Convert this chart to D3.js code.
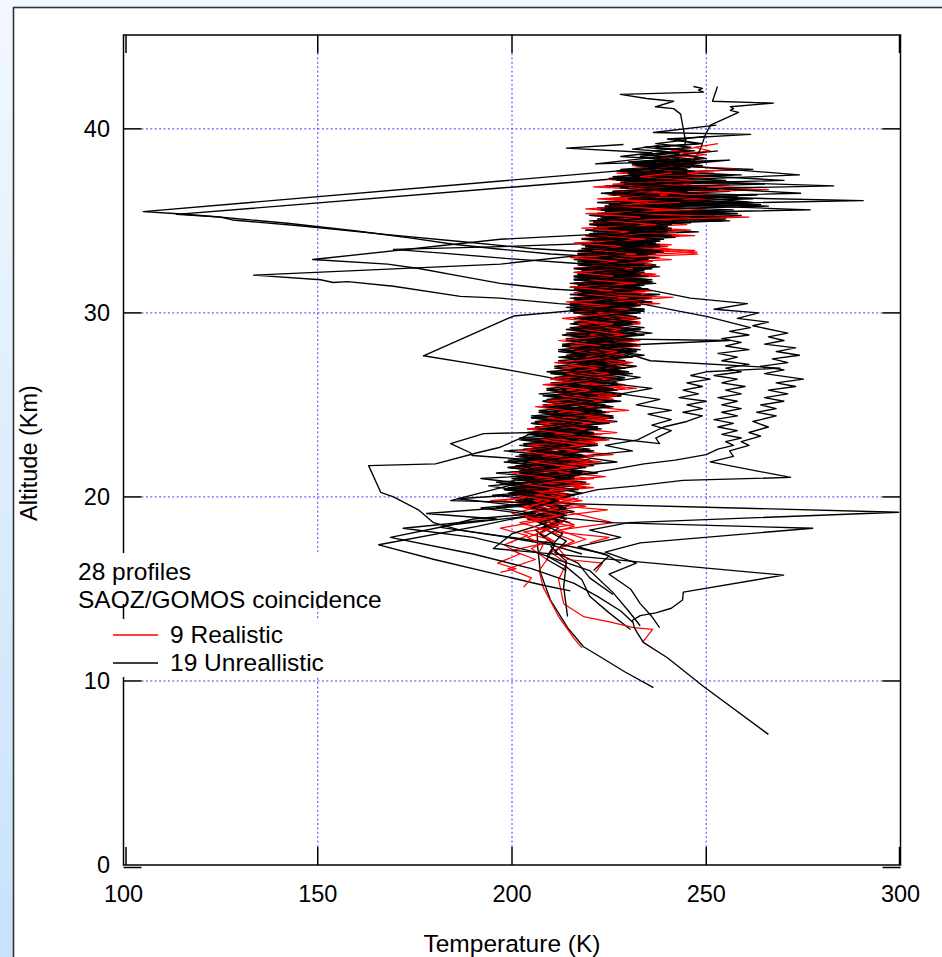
<!DOCTYPE html>
<html><head><meta charset="utf-8">
<script src="https://cdn.jsdelivr.net/npm/d3@7/dist/d3.min.js"></script>
<style>body{margin:0;background:#fff}svg{display:block}</style>
</head><body><svg id="c" width="942" height="957"></svg>
<script>
// ---- data: each profile is a flat list of (temperature K, altitude km) pairs ----
const xTicks=[100,150,200,250,300];
const yTicks=[0,10,20,30,40];
const xTitle="Temperature (K)";
const yTitle="Altitude (Km)";
const noteLines=["28 profiles","SAOZ/GOMOS coincidence"];
const legendLabels=["9 Realistic","19 Unreallistic"];

const realistic=[
[253,39.2,247,39.0,251,38.8,242,38.6,249,38.4,238,38.2,246,38.0,236,37.8,252,37.6,233,37.4,244,37.2,228,37.0,262,36.8,231,36.6,246,36.4,226,36.2,250,36.0,229,35.8,241,35.6,222,35.4,238,35.2,226,35.0,245,34.8,223,34.6,236,34.4,220,34.2,233,34.0,225,33.8,240,33.6,219,33.4,232,33.2,224,33.0,236,32.8,218,32.6,231,32.4,222,32.2,234,32.0,219,31.8,229,31.6,223,31.4,236,31.2,218,31.0,230,30.8,221,30.6,233,30.4,217,30.2,228,30.0,222,29.7,233,29.4,216,29.1,228,28.8,220,28.5,231,28.2,215,27.9,226,27.6,218,27.3,229,27.0,213,26.7,225,26.4,216,26.1,227,25.8,211,25.5,222,25.2,214,24.9,225,24.6,209,24.3,220,24.0,211,23.7,222,23.4,206,23.1,217,22.8,209,22.5,220,22.2,204,21.9,215,21.6,206,21.3,217,21.0,202,20.7,212,20.4,205,20.1,215,19.8,201,19.5,211,19.2,204,18.9,213,18.6,206,18.2,210,17.7,205,17.2,209,16.6,207,16.0,208,15.1,210,14.3,212,13.5,214,12.9,216,12.3,218,11.8],
[237.7,38.4,244,38.2,231,38.0,241,37.8,227,37.6,247,37.4,232,37.2,256,37.0,229,36.8,243,36.6,225,36.4,249,36.2,228,36.0,239,35.8,222,35.6,242,35.4,227,35.2,236,35.0,221,34.8,240,34.6,226,34.4,247,34.2,223,34.0,235,33.8,219,33.6,247,33.4,226,33.2,238,33.0,220,32.8,233,32.6,224,32.4,231,32.2,218,32.0,234,31.8,225,31.6,231,31.4,219,31.2,233,31.0,223,30.8,236,30.6,220,30.4,229,30.2,224,30.0,233,29.7,219,29.4,230,29.1,222,28.8,232,28.5,216,28.2,228,27.9,219,27.6,231,27.3,217,27.0,226,26.7,212,26.4,224,26.1,217,25.8,228,25.5,210,25.2,222,24.9,214,24.6,226,24.3,209,24.0,221,23.7,212,23.4,225,23.1,207,22.8,219,22.5,210,22.2,223,21.9,205,21.6,217,21.3,208,21.0,220,20.7,206,20.4,216,20.1,207,19.8,219,19.5,208,19.2,214,18.8,209,18.2,216,17.6,210,17.0,214,16.4,212,15.5,213.3,14.2,218.4,13.5,225.4,13.2,231.3,12.9,236.2,12.8,233.6,12.1],
[224.6,37.25,236,37.05,221,36.85,240,36.65,227,36.45,244,36.25,224,36.05,236,35.85,219,35.65,234,35.45,224,35.25,241,35.05,220,34.85,232,34.65,223,34.45,237,34.25,218,34.05,230,33.85,221,33.65,234,33.45,217,33.25,228,33.05,222,32.85,236,32.65,216,32.45,229,32.25,221,32.05,233,31.85,218,31.65,228,31.45,221,31.25,235,31.05,216,30.85,227,30.65,220,30.45,231,30.25,217,30.05,229,29.75,219,29.45,228,29.15,214,28.85,226,28.55,219,28.25,230,27.95,214,27.65,227,27.35,217,27.05,224,26.75,212,26.45,222,26.15,215,25.85,227,25.55,210,25.25,220,24.95,212,24.65,223,24.35,207,24.05,219,23.75,211,23.45,222,23.15,205,22.85,218,22.55,203,22.25,214,21.95,207,21.65,219,21.35,203,21.05,213,20.75,205,20.45,215,20.15,194.5,19.8,224.6,19.3,210,18.9,216,18.5,203,18.1,211,17.6,200,17.1,206,16.6,199,16.1,205,15.6,203,15.1],
[247.7,39.0,241,38.8,250,38.6,237,38.4,246,38.2,233,38.0,243,37.8,231,37.6,252,37.4,234,37.2,241,37.0,229,36.85,266,36.7,236,36.5,228,36.3,251,36.1,226,35.9,244,35.7,230,35.5,252,35.3,224,35.1,238,34.9,228,34.7,246,34.5,222,34.3,236,34.1,226,33.9,241,33.7,220,33.5,233,33.3,225,33.1,241,32.9,219,32.7,232,32.5,224,32.3,237,32.1,218,31.9,229,31.7,222,31.5,235,31.3,219,31.1,231,30.9,224,30.7,238,30.5,218,30.3,229,30.1,222,29.8,233,29.5,218,29.2,228,28.9,221,28.6,232,28.3,216,28.0,229,27.7,219,27.4,231,27.1,214,26.8,227,26.5,219,26.2,232,25.9,212,25.6,226,25.3,216,25.0,230,24.7,210,24.4,224,24.1,213,23.8,227,23.5,208,23.2,222,22.9,211,22.6,226,22.3,206,22.0,219,21.7,209,21.4,224,21.1,207,20.8,218,20.5,205,20.2,217,19.9,208,19.6,214,19.2,226,18.6,212,18.2,219,17.7,212,17.2,214.3,16.6,223.3,16.4,221.5,15.9],
[250,38.2,244,38.0,258,37.8,238,37.6,249,37.4,234,37.2,246,37.0,230,36.8,243,36.6,227,36.4,251,36.2,231,36.0,245,35.8,225,35.6,241,35.4,229,35.2,238,35.0,222,34.8,236,34.6,228,34.4,243,34.2,221,34.0,234,33.8,226,33.6,231,33.4,218,33.2,232,33.0,224,32.8,236,32.6,220,32.4,229,32.2,224,32.0,234,31.8,217,31.6,228,31.4,222,31.2,231,31.0,219,30.8,233,30.6,223,30.4,228,30.2,216,30.0,229,29.7,221,29.4,231,29.1,219,28.8,227,28.5,215,28.2,228,27.9,218,27.6,226,27.3,213,27.0,224,26.7,217,26.4,229,26.1,211,25.8,223,25.5,214,25.2,225,24.9,209,24.6,220,24.3,212,24.0,222,23.7,206,23.4,218,23.1,209,22.8,221,22.5,204,22.2,216,21.9,201,21.6,213,21.3,203,21.0,214,20.7,200,20.4,211,20.1,197,19.8,208,19.5,200,19.1,207,18.7,197,18.3,204,17.9,198,17.4,202,16.9,196.3,16.4,201,16.1,197,15.9],
[235,37.0,246,36.8,228,36.6,243,36.4,224,36.2,238,36.0,229,35.8,250,35.6,226,35.4,246,35.2,222,35.0,235,34.8,226,34.6,240,34.4,219,34.2,233,34.0,226,33.8,247.6,33.3,228,33.1,235,32.9,219,32.7,231,32.5,223,32.3,236,32.1,217,31.9,230,31.7,221,31.5,229,31.3,216,31.1,231,30.9,224,30.7,233,30.5,217,30.3,228,30.1,219,29.8,231,29.5,216,29.2,229,28.9,222,28.6,232,28.3,213,28.0,226,27.7,216,27.4,228,27.1,211,26.8,225,26.5,216,26.2,229,25.9,213,25.6,224,25.3,209,25.0,222,24.7,213,24.4,226,24.1,207,23.8,219,23.5,210,23.2,222,22.9,204,22.6,217,22.3,206,22.0,220,21.7,203,21.4,214,21.1,207,20.8,221,20.5,204,20.2,213,19.9,202,19.6,211,19.2,205,18.8,212,18.3],
[243,38.0,236,37.8,248,37.6,231,37.4,243,37.2,226,37.0,240,36.8,232,36.6,253,36.4,227,36.2,243,36.0,224,35.8,238,35.6,228,35.4,244,35.2,221,35.0,234,34.8,226,34.6,242,34.4,220,34.2,231,34.0,224,33.8,236,33.6,218,33.4,231,33.2,223,33.0,234,32.8,219,32.6,229,32.4,221,32.2,235,32.0,217,31.8,228,31.6,223,31.4,233,31.2,218,31.0,226,30.8,220,30.6,232,30.4,216,30.2,229,30.0,221,29.7,230,29.4,215,29.1,227,28.8,220,28.5,233,28.2,214,27.9,226,27.6,218,27.3,228,27.0,212,26.7,223,26.4,215,26.1,227,25.8,210,25.5,221,25.2,213,24.9,224,24.6,208,24.3,219,24.0,210,23.7,223,23.4,206,23.1,217,22.8,209,22.5,221,22.2,205,21.9,216,21.6,207,21.3,221,21.0,203,20.7,215,20.4,206,20.1,218,19.8,207,19.5,214,19.1,208,18.7,216,18.4,211,18.1,225,17.8,220,17.5],
[236,36.6,247,36.4,228,36.2,241,36.0,226,35.8,239,35.6,230,35.4,261,35.2,225,35.0,241,34.8,221,34.6,237,34.4,227,34.2,236,34.0,219,33.8,231,33.6,247.8,33.2,226,33.0,236,32.8,219,32.6,230,32.4,223,32.2,238,32.0,217,31.8,231,31.6,222,31.4,234,31.2,219,31.0,241.5,30.85,226,30.6,218,30.4,230,30.2,222,30.0,232,29.7,217,29.4,228,29.1,220,28.8,233,28.5,215,28.2,227,27.9,219,27.6,230,27.3,213,27.0,225,26.7,210,26.4,222,26.1,214,25.8,227,25.5,209,25.2,221,24.9,212,24.6,225,24.3,207,24.0,219,23.7,211,23.4,223,23.1,204,22.8,217,22.5,208,22.2,220,21.9,205,21.6,215,21.3,206,21.0,218,20.7,204,20.4,214,20.1,206,19.8,212,19.4,203,19.0,210,18.6],
[241,37.6,233,37.4,247,37.2,229,37.0,243,36.8,226,36.6,240,36.4,222,36.2,235,36.0,226,35.8,243,35.6,219,35.4,233,35.2,224,35.0,237,34.8,218,34.6,230,34.4,222,34.2,234,34.0,216,33.8,228,33.6,221,33.4,232,33.2,215,33.0,227,32.8,219,32.6,231,32.4,216,32.2,226,32.0,220,31.8,232,31.6,215,31.4,226,31.2,219,31.0,230,30.8,214,30.6,225,30.4,218,30.2,228,30.0,213,29.7,226,29.4,218,29.1,229,28.8,212,28.5,223,28.2,216,27.9,227,27.6,211,27.3,222,27.0,214,26.7,224,26.4,208,26.1,220,25.8,212,25.5,223,25.2,206,24.9,218,24.6,209,24.3,220,24.0,204,23.7,216,23.4,208,23.1,219,22.8,202,22.5,213,22.2,205,21.9,217,21.6,200,21.3,211,21.0,203,20.7,214,20.4,201,20.1,210,19.8,203,19.4,212,19.0,202,18.6,209,18.2,204,17.8,208,17.4,207,17.0]
];

const unrealistic=[
[238,39.1,231,38.9,243,38.7,233,38.5,240,38.3,234.9,37.85,105.1,35.5,113,35.4,122.4,35.25,142.2,34.87,160,34.45,174.6,34.05,184.9,33.73,197,33.46,210,33.2,226,33.0,219,32.8,236,32.6,218,32.4,231,32.2,221,32.0,236,31.8,216,31.6,229,31.4,221,31.2,238,31.0,219,30.8,232,30.6,222,30.4,234,30.2,216,30.0,230,29.7,221,29.4,233,29.1,215,28.8,228,28.5,219,28.2,232,27.9,213,27.6,226,27.3,216,27.0,231,26.7,211,26.4,224,26.1,215,25.8,228,25.5,209,25.2,222,24.9,212,24.6,226,24.3,206,24.0,219,23.7,209,23.4,224,23.1,203,22.8,216,22.5,206,22.2,221,21.9,201,21.6,214,21.3,205,21.0,219,20.7,200,20.4,212,20.1,204,19.8,214,19.5,206,19.0,211,18.5,206.5,18.0,206.6,17.3,207.3,15.9,209.9,14.4,214.3,12.9,218.4,11.86,222.8,11.3,229,10.5,236.4,9.64],
[246,38.4,238,38.2,247,38.0,236,37.8,244,37.6,233,37.4,113.6,35.35,125,35.2,128,35.05,146,34.72,168,34.25,188,33.85,205,33.5,228,33.2,218,33.0,236,32.8,221,32.6,233,32.4,216,32.2,230,32.0,222,31.8,237,31.6,218,31.4,229,31.2,221,31.0,234,30.8,216,30.6,228,30.4,220,30.2,233,30.0,217,29.7,229,29.4,221,29.1,234,28.8,214,28.5,226,28.2,219,27.9,231,27.6,212,27.3,225,27.0,217,26.7,229,26.4,210,26.1,222,25.8,213,25.5,228,25.2,208,24.9,220,24.6,211,24.3,225,24.0,204,23.7,217,23.4,208,23.1,222,22.8,198,22.5,213,22.2,203,21.9,218,21.6,196,21.3,211,21.0,200,20.7,216,20.4,195,20.1,209,19.8,201,19.5,214,19.2,203,18.9,212,18.5,207,18.0,211,17.4,209,16.8,214,16.2,218,15.5,220,14.6,225,13.7,230.5,12.8],
[238,36.7,226,36.5,246,36.3,229,36.1,243,35.9,234,35.7,255,35.45,228,35.25,241,35.05,224,34.85,237,34.65,226,34.45,239,34.25,222,34.05,233,33.85,227,33.6,225,33.3,197,32.65,133.5,32.05,150.7,31.8,154,31.65,157.7,31.7,169.5,31.45,186.7,30.9,197,30.8,212,30.5,227,30.3,217,30.1,231,29.8,218,29.5,229,29.2,214,28.9,226,28.6,219,28.3,233,28.0,215,27.7,228,27.4,218,27.1,230,26.8,212,26.5,224,26.2,216,25.9,229,25.6,210,25.3,222,25.0,213,24.7,226,24.4,207,24.1,219,23.8,210,23.5,224,23.2,204,22.9,216,22.6,207,22.3,220,22.0,202,21.7,214,21.4,205,21.1,219,20.8,199,20.5,212,20.2,204,19.9,216,19.6,205,19.2,214,18.8,208,18.3,214,17.6,211,17.0,217,16.4,220,15.6,226,14.7],
[252.6,40.2,236.4,39.8,261.4,39.7,240,39.45,248,39.2,234,39.0,245,38.8,233,38.6,243,38.4,230,38.2,241,38.0,228,37.8,239,37.6,226,37.4,241,37.2,228,37.0,250,36.8,231,36.6,239,36.4,225,36.2,258,36.0,228,35.8,236,35.6,222,35.4,252,35.2,226,35.0,235,34.8,221,34.6,229,34.35,197,34.0,148.7,32.9,168,32.65,176.4,32.4,186.7,32.0,197,31.6,210,31.3,226,31.1,219,30.9,233,30.7,220,30.5,230,30.3,215,30.1,228,29.8,221,29.5,234,29.2,217,28.9,229,28.6,221,28.3,231,28.0,214,27.7,227,27.4,217,27.1,228,26.8,211,26.5,224,26.2,215,25.9,227,25.6,209,25.3,221,25.0,212,24.7,225,24.4,206,24.1,219,23.8,209,23.5,223,23.2,203,22.9,216,22.6,207,22.3,220,22.0,201,21.7,214,21.4,205,21.1,217,20.8,209,20.4],
[228.7,39.15,214,38.95,236,38.7,228,38.5,243,38.3,231,38.1,240,37.9,227,37.7,259,37.5,229,37.3,239,37.1,224,36.9,237,36.7,230,36.5,258,36.3,228,36.1,242,35.9,222,35.7,238,35.5,226,35.3,255,35.1,221,34.9,234,34.7,225,34.5,238,34.3,228,34.1,231,33.85,197,33.6,169.5,33.45,182,33.25,199,32.95,216,32.7,233,32.5,218,32.3,229,32.1,220,31.9,236,31.7,217,31.5,228,31.3,222,31.1,232,30.9,216,30.7,229,30.5,221,30.3,234,30.1,217,29.8,228,29.5,220,29.2,232,28.9,214,28.6,226,28.3,218,28.0,230,27.7,212,27.4,225,27.1,216,26.8,229,26.5,210,26.2,222,25.9,214,25.6,226,25.3,208,25.0,220,24.7,213,24.4,227,24.1,206,23.8,218,23.5,210,23.2,222,22.9,203,22.6,216,22.3,207,22.0,221,21.7,202,21.4,214,21.1,205,20.8,219,20.5,200,20.2,213,19.9,204,19.6,212,19.2,200,18.8,191,18.4,165.7,17.4,180,16.6,197,15.75,208,15.2,215,14.9],
[244,37.6,233,37.4,247,37.2,228,37.0,241,36.8,226,36.6,263,36.4,230,36.2,244,36.0,224,35.8,239,35.6,228,35.4,257,35.2,221,35.0,236,34.8,227,34.6,248,34.4,222,34.2,234,34.0,218,33.8,231,33.6,224,33.4,237,33.2,217,33.0,230,32.8,223,32.6,236,32.4,218,32.2,229,32.0,221,31.8,233,31.6,215,31.4,228,31.2,222,31.0,236,30.8,219,30.6,225,30.3,200.4,29.83,177.2,27.67,190.1,27.23,200.4,26.85,212.5,26.37,223,26.1,211,25.8,226,25.5,208,25.2,220,24.9,210,24.6,224,24.3,205,24.0,218,23.7,209,23.4,222,23.1,203,22.8,215,22.5,206,22.2,220,21.9,199,21.6,213,21.3,203,21.0,217,20.7,198,20.4,210,20.1,201,19.8,213,19.5,203,19.1,212,18.7,206,18.2,211,17.4,209,16.6,214,16.0],
[246.7,42.3,249,42.2,248,42.1,249.3,42.0,227.9,41.87,234.6,41.65,241.6,41.5,236.9,41.2,241.6,41.1,243.4,40.8,244.1,40.0,244.7,39.3,244.1,38.9,242,38.5,234.8,38.1,243,37.9,229,37.7,240,37.5,226,37.3,256,37.1,228,36.9,240,36.7,223,36.5,236,36.3,227,36.1,262,35.9,224,35.7,236,35.5,220,35.3,233,35.1,225,34.9,240,34.7,219,34.5,231,34.3,224,34.1,238,33.9,218,33.7,229,33.5,222,33.3,235,33.1,216,32.9,228,32.7,221,32.5,233,32.3,217,32.1,227,31.9,220,31.7,234,31.5,216,31.3,229,31.1,222,30.9,231,30.7,215,30.5,228,30.3,220,30.1,232,29.8,216,29.5,227,29.2,219,28.9,231,28.6,213,28.3,225,28.0,217,27.7,229,27.4,211,27.1,223,26.8,215,26.5,227,26.2,209,25.9,221,25.6,212,25.3,224,25.0,207,24.7,219,24.4,210,24.1,222,23.8,204,23.5,217,23.2,208,22.9,220,22.6,202,22.3,214,22.0,205,21.7,218,21.4,201,21.1,212,20.8,204,20.5,209,20.2],
[252.9,42.3,251.6,41.5,267.3,41.4,256.2,41.2,257,41.1,256.2,41.0,258.3,40.9,251.1,40.2,249.8,39.7,248.5,38.9,246.7,38.2,238,38.0,262,37.8,235,37.6,247,37.4,231,37.2,244,37.0,229,36.8,256,36.6,233,36.4,246,36.2,228,36.0,241,35.8,224,35.6,239,35.4,229,35.2,254,35.0,223,34.8,235,34.6,227,34.4,240,34.2,221,34.0,233,33.8,226,33.6,239,33.4,220,33.2,231,33.0,224,32.8,237,32.6,219,32.4,230,32.2,223,32.0,235,31.8,218,31.6,229,31.4,222,31.2,233,31.0,216,30.8,228,30.6,221,30.4,234,30.2,218,30.0,229,29.7,221,29.4,233,29.1,215,28.8,227,28.5,220,28.2,232,27.9,214,27.6,226,27.3,218,27.0,229,26.7,211,26.4,223,26.1,216,25.8,228,25.5,210,25.2,222,24.9,213,24.6,226,24.3,212,24.0,222,23.8,207.3,23.6,205.5,23.5,192.7,23.44,184.2,22.9,189.3,22.4,189.8,22.25,197,22.14,214,21.9,203,21.6,218,21.3,200,21.0,212,20.7,203,20.4,216,20.1,204,19.8,213,19.4,207,19.0,215,18.6],
[245,38.6,236,38.4,249,38.2,232,38.0,245,37.8,230,37.6,242,37.4,227,37.2,265,37.0,229,36.8,240,36.6,226,36.4,244,36.2,228,36.0,238,35.8,223,35.6,258,35.4,225,35.2,235,35.0,220,34.8,237,34.6,226,34.4,239,34.2,221,34.0,232,33.8,224,33.6,236,33.4,218,33.2,229,33.0,223,32.8,235,32.6,218,32.4,230,32.2,222,32.0,233,31.8,219,31.6,233,31.35,245.9,30.8,260.6,30.5,252,30.2,263.5,30.0,258,29.7,266,29.5,262,29.3,271,28.9,266,28.7,270,28.5,265,28.3,273,28.1,268,27.9,274,27.7,267,27.5,271,27.3,264,27.1,270,26.9,265,26.7,275,26.4,268,26.2,273,26.0,266,25.8,271,25.6,265,25.4,270,25.2,264,25.0,268,24.8,263,24.6,268,24.4,262,24.1,266,23.8,261,23.5,264,23.3,259,23.0,261,22.8,256,22.5,257,22.2,251,21.9,271.7,21.06,244,20.9,232,20.6,222,20.4,214,20.0,207,19.6,216,19.2,204,18.8,212,18.3,208,17.8],
[237,37.0,228,36.8,245,36.6,227,36.4,240,36.2,222,36.0,236,35.8,226,35.6,256,35.4,223,35.2,236,35.0,220,34.8,233,34.6,225,34.4,237,34.2,218,34.0,231,33.8,222,33.6,235,33.4,217,33.2,229,33.0,221,32.8,234,32.6,216,32.4,228,32.2,222,32.0,231,31.8,215,31.6,228,31.4,220,31.2,232,31.0,219,30.8,233,30.5,250.3,29.8,261.4,29.2,256,29.0,261,28.8,254,28.6,259,28.4,255,28.2,261,28.0,253,27.8,258,27.6,254,27.4,261,27.2,255,27.0,259,26.8,252,26.6,258,26.4,254,26.2,260,26.0,255,25.8,259,25.6,253,25.4,258,25.2,254,25.0,259,24.8,254,24.6,258,24.4,252,24.2,257,24.0,253,23.8,258,23.6,254,23.4,259,23.2,255,23.0,257,22.8,253,22.6,250,22.3,242,22.0,234,21.8,226,21.5,217,21.2,206,20.9,215,20.6,202,20.3,212,20.0,204,19.6,209,19.3],
[240,38.3,231,38.1,243,37.9,228,37.7,240,37.5,225,37.3,238,37.1,226,36.9,253,36.7,224,36.5,237,36.3,228,36.1,264,35.9,225,35.7,234,35.5,220,35.3,236,35.1,224,34.9,233,34.7,219,34.5,232,34.3,225,34.1,238,33.9,219,33.7,231,33.5,222,33.3,232,33.1,217,32.9,229,32.7,221,32.5,234,32.3,217,32.1,228,31.9,221,31.7,232,31.5,218,31.3,229,31.1,222,30.9,234,30.7,217,30.5,229,30.3,221,30.0,232,29.7,216,29.4,228,29.1,220,28.8,232,28.5,217,28.2,228,27.9,235.6,27.4,269,27.0,250,26.8,246,26.6,251,26.4,245,26.2,249,26.0,244,25.8,248,25.6,243,25.4,250,25.2,245,25.0,249,24.8,244,24.6,249,24.4,245,24.1,239,23.8,232.3,23.1,224,22.8,231,22.5,217,22.2,227,21.9,211,21.6,222,21.3,208,21.0,218,20.7,205,20.4,214,20.0,204,19.6,211,19.2,205,18.8],
[233,35.6,253,35.4,225,35.2,238,35.0,222,34.8,236,34.6,227,34.4,241,34.2,222,34.0,234,33.8,219,33.6,232,33.4,224,33.2,237,33.0,218,32.8,230,32.6,222,32.4,234,32.2,216,32.0,229,31.8,222,31.6,232,31.4,217,31.2,227,31.0,220,30.8,236,30.6,218,30.4,229,30.2,221,30.0,231,29.7,215,29.4,228,29.1,220,28.8,231,28.5,213,28.2,226,27.9,218,27.6,230,27.3,212,27.0,224,26.7,216,26.4,228,26.1,209,25.8,222,25.5,213,25.2,226,24.9,207,24.6,219,24.3,210,24.0,223,23.7,205,23.4,217,23.1,208,22.8,221,22.5,202,22.2,215,21.9,205,21.6,218,21.3,201,21.0,199,20.6,184.2,19.8,299.5,19.17,230,18.6,220,18.2,228,17.8,217,17.3,225,16.8,221,16.0],
[240,36.2,230,36.0,266,35.8,226,35.6,239,35.4,223,35.2,236,35.0,226,34.8,241,34.6,221,34.4,233,34.2,225,34.0,237,33.8,219,33.6,231,33.4,222,33.2,235,33.0,217,32.8,228,32.6,221,32.4,232,32.2,216,32.0,228,31.8,220,31.6,233,31.4,217,31.2,226,31.0,219,30.8,231,30.6,215,30.4,227,30.2,220,30.0,233,29.7,216,29.4,227,29.1,219,28.8,230,28.5,213,28.2,225,27.9,217,27.6,228,27.3,211,27.0,223,26.7,215,26.4,227,26.1,209,25.8,221,25.5,212,25.2,225,24.9,207,24.6,219,24.3,210,24.0,222,23.7,204,23.4,217,23.1,207,22.8,220,22.5,201,22.2,213,21.9,204,21.6,216,21.3,192,21.0,208,20.6,218,20.2,203,19.8,214,19.4,207,19.0,225.4,18.6,277.4,18.3,233,17.5,224,17.0,232,16.4,225,15.8,230.5,15.0,233,14.2,236,13.5,238,12.9],
[246,37.9,236,37.7,257,37.5,232,37.3,245,37.1,229,36.9,241,36.7,227,36.5,262,36.2,229,36.0,242,35.8,223,35.6,237,35.4,226,35.2,256,35.0,221,34.8,233,34.6,226,34.4,239,34.2,219,34.0,232,33.8,223,33.6,236,33.4,217,33.2,230,33.0,222,32.8,234,32.6,217,32.4,228,32.2,221,32.0,235,31.8,216,31.6,227,31.4,220,31.2,232,31.0,215,30.8,228,30.6,222,30.4,233,30.2,216,30.0,228,29.7,219,29.4,231,29.1,213,28.8,226,28.5,218,28.2,230,27.9,212,27.6,224,27.3,216,27.0,228,26.7,210,26.4,222,26.1,213,25.8,226,25.5,208,25.2,220,24.9,211,24.6,224,24.3,205,24.0,218,23.7,208,23.4,221,23.1,202,22.8,214,22.5,205,22.2,219,21.9,199,21.6,212,21.3,203,21.0,215,20.7,198,20.4,210,20.1,201,19.8,213,19.5,203,19.1,209,18.6,200,18.0,195.2,17.2,269.9,15.75,244.1,14.83,243.9,14.4,241,13.95,237,13.7,233,13.55,231,13.3,231.5,12.9,232.3,12.6,233.8,12.1,240,11.26,249.3,9.7,266,7.1],
[253,38.8,244,38.6,250,38.4,238,38.1,274,37.5,239,37.2,282.8,36.9,234,36.7,248,36.5,228,36.3,244,36.1,226,35.9,241,35.7,224,35.5,238,35.3,229,35.1,246,34.9,222,34.7,235,34.5,227,34.3,242,34.1,221,33.9,234,33.7,226,33.5,239,33.3,221,33.1,232,32.9,225,32.7,238,32.5,220,32.3,231,32.1,224,31.9,236,31.7,219,31.5,231,31.3,224,31.1,237,30.9,220,30.7,232,30.5,223,30.3,234,30.1,219,29.8,230,29.5,223,29.2,236,28.9,219,28.6,231,28.3,223,28.0,234,27.7,218,27.4,232,27.1,222,26.8,233,26.5,224,26.2,236,25.9,228,25.6,238,25.3,232,25.0,241,24.7,235,24.5,241,24.2,236,23.9,241,23.6,237,23.2,238,22.9,225,23.2,205.5,23.5,197,22.7,191.1,22.4,180.3,21.8,163.1,21.7,166.2,20.25,169.5,20.0,175.9,19.3,179.8,18.6,186.7,18.2,200,17.8,213,17.4,224,16.9,228,16.4],
[248,38.4,239,38.2,249,38.0,234,37.8,245,37.6,231,37.4,244,37.2,229,37.0,242,36.8,230,36.6,235,36.35,290.4,36.1,238,35.9,276.8,35.6,228,35.4,241,35.2,223,35.0,236,34.8,226,34.6,240,34.4,220,34.2,233,34.0,225,33.8,238,33.6,219,33.4,230,33.2,222,33.0,236,32.8,217,32.6,229,32.4,222,32.2,233,32.0,216,31.8,227,31.6,220,31.4,234,31.2,217,31.0,229,30.8,221,30.6,232,30.4,215,30.2,227,30.0,219,29.7,230,29.4,214,29.1,227,28.8,219,28.5,231,28.2,212,27.9,224,27.6,216,27.3,229,27.0,210,26.7,222,26.4,214,26.1,226,25.8,208,25.5,220,25.2,211,24.9,224,24.6,205,24.3,218,24.0,209,23.7,221,23.4,203,23.1,216,22.8,206,22.5,219,22.2,199,21.9,212,21.6,203,21.3,215,21.0,197,20.7,209,20.4,200,20.1,212,19.8,192,19.4,206,19.0,185,18.5,168.7,17.8,190,16.9,205,16.1,216,15.3,222,14.6,228,13.8,231,13.2],
[245,39.4,237,39.2,246,39.0,236,38.8,243,38.6,221.5,38.1,256,38.3,235,37.9,247,37.7,230,37.5,243,37.3,228,37.1,240,36.9,274.3,36.5,231,36.3,245,36.1,225,35.9,238,35.7,227,35.5,259,35.3,222,35.1,237,34.9,226,34.7,241,34.5,220,34.3,232,34.1,224,33.9,238,33.7,218,33.5,230,33.3,223,33.1,235,32.9,217,32.7,228,32.5,221,32.3,233,32.1,216,31.9,228,31.7,220,31.5,235,31.3,218,31.1,227,30.9,219,30.7,231,30.5,214,30.3,227,30.1,220,29.8,232,29.5,215,29.2,226,28.9,218,28.6,229,28.3,212,28.0,224,27.7,216,27.4,227,27.1,209,26.8,222,26.5,213,26.2,226,25.9,207,25.6,219,25.3,211,25.0,223,24.7,205,24.4,217,24.1,208,23.8,221,23.5,202,23.2,215,22.9,205,22.6,218,22.3,199,22.0,211,21.7,202,21.4,216,21.1,196,20.8,209,20.5,199,20.2,211,19.8,196,19.4,206,19.1,190,18.8,181.6,18.35,196,17.9,210,17.4,218,16.9],
[250,39.6,242,39.4,249,39.2,237,39.0,247,38.8,234,38.6,245,38.4,232,38.2,243,38.0,236,37.6,270,37.2,233,37.0,246,36.8,229,36.6,241,36.4,262,36.0,230,35.8,257,35.6,224,35.4,238,35.2,227,35.0,241,34.8,221,34.6,234,34.4,226,34.2,239,34.0,220,33.8,232,33.6,224,33.4,236,33.2,218,33.0,231,32.8,222,32.6,234,32.4,217,32.2,229,32.0,222,31.8,236,31.6,216,31.4,228,31.2,221,31.0,233,30.8,217,30.6,230,30.4,222,30.2,232,30.0,216,29.7,228,29.4,220,29.1,233,28.8,214,28.5,227,28.2,218,27.9,230,27.6,212,27.3,224,27.0,216,26.7,228,26.4,210,26.1,223,25.8,214,25.5,226,25.2,208,24.9,220,24.6,211,24.3,224,24.0,206,23.7,218,23.4,209,23.1,222,22.8,204,22.5,216,22.2,207,21.9,219,21.6,202,21.3,213,21.0,205,20.7,217,20.4,202,20.1,212,19.8,205,19.4,214,19.0,207,18.6,213,18.0,210,17.3,214,16.5,213.3,15.1,213.8,14.3,214.3,13.5],
[236,37.4,255,37.2,229,37.0,243,36.8,226,36.6,238,36.4,230,36.2,261,36.0,224,35.8,236,35.6,228,35.4,243,35.2,220,35.0,233,34.8,225,34.6,237,34.4,219,34.2,230,34.0,223,33.8,234,33.6,217,33.4,229,33.2,222,33.0,232,32.8,218,32.6,229,32.4,221,32.2,235,32.0,216,31.8,227,31.6,220,31.4,231,31.2,215,31.0,227,30.8,221,30.6,233,30.4,216,30.2,229,30.0,219,29.7,231,29.4,216,29.1,226,28.8,221,28.6,256,28.5,224,28.2,214,27.9,227,27.6,217,27.3,229,27.0,211,26.7,223,26.4,214,26.1,227,25.8,209,25.5,221,25.2,212,24.9,224,24.6,205,24.3,218,24.0,208,23.7,221,23.4,202,23.1,215,22.8,205,22.5,219,22.2,198,21.9,212,21.6,202,21.3,216,21.0,194,20.6,207,20.2,186,19.9,203,19.5,178,19.1,196,18.8,172,18.3,190,17.8,206,17.0,220,16.0,226,14.8,230,13.8,233,13.0]
];

// ---- drawing ----
const W=942,H=957;
const svg=d3.select("#c");
const FONT="'Liberation Sans', Arial, Helvetica, sans-serif";
const plot={left:123.5,right:900.5,top:35,bottom:865};
const x=d3.scaleLinear().domain([100,300]).range([plot.left,plot.right]);
const y=d3.scaleLinear().domain([0,45.1]).range([plot.bottom,plot.top]);
const TL=18;

const defs=svg.append("defs");
const grad=defs.append("linearGradient").attr("id","bg").attr("x1",0).attr("y1",0).attr("x2",0).attr("y2",1);
grad.append("stop").attr("offset","0%").attr("stop-color","#f2f8fe");
grad.append("stop").attr("offset","100%").attr("stop-color","#c8e2fa");
defs.append("clipPath").attr("id","clip").append("rect")
  .attr("x",plot.left).attr("y",plot.top).attr("width",plot.right-plot.left).attr("height",plot.bottom-plot.top);

svg.append("rect").attr("width",W).attr("height",H).attr("fill","url(#bg)");
svg.append("rect").attr("x",13.5).attr("y",7.5).attr("width",W).attr("height",H)
  .attr("fill","#fff").attr("stroke","#333").attr("stroke-width",1.6);

// grid
const grid=svg.append("g").attr("stroke","#2b2bff").attr("stroke-width",1).attr("stroke-dasharray","2,2.4").attr("opacity",0.9);
xTicks.slice(1,-1).forEach(v=>grid.append("line").attr("x1",x(v)).attr("x2",x(v)).attr("y1",plot.top+TL).attr("y2",plot.bottom-TL));
yTicks.slice(1).forEach(v=>grid.append("line").attr("y1",y(v)).attr("y2",y(v)).attr("x1",plot.left+TL).attr("x2",plot.right-TL));

// data: interleave drawing order so neither colour sits entirely on top
const toPts=a=>{const p=[];for(let i=0;i<a.length;i+=2)p.push([a[i],a[i+1]]);return p;};
const line=d3.line().x(d=>x(d[0])).y(d=>y(d[1]));
const dg=svg.append("g").attr("clip-path","url(#clip)").attr("fill","none").attr("stroke-linejoin","round");
const drawOne=(a,col,w)=>dg.append("path").attr("d",line(toPts(a))).attr("stroke",col).attr("stroke-width",w);
for(let i=0;i<realistic.length+1;i++){
  [unrealistic[2*i],unrealistic[2*i+1]].forEach(a=>{if(a)drawOne(a,"#000",1.35);});
  if(realistic[i])drawOne(realistic[i],"#ff0000",1.25);
}
for(let j=2*(realistic.length+1);j<unrealistic.length;j++)drawOne(unrealistic[j],"#000",1.35);

// axes box and ticks
const ax=svg.append("g").attr("stroke","#000").attr("stroke-width",1.5).attr("fill","none");
ax.append("rect").attr("x",plot.left).attr("y",plot.top).attr("width",plot.right-plot.left).attr("height",plot.bottom-plot.top);
xTicks.forEach((v,i)=>{
  const off=i===0?2.5:(i===xTicks.length-1?-1:0);
  const xx=x(v)+off;
  ax.append("line").attr("x1",xx).attr("x2",xx).attr("y1",plot.bottom).attr("y2",plot.bottom-TL);
  ax.append("line").attr("x1",xx).attr("x2",xx).attr("y1",plot.top).attr("y2",plot.top+TL);
});
yTicks.forEach((v,i)=>{
  const yy=y(v)+(i===0?2.5:0);
  ax.append("line").attr("y1",yy).attr("y2",yy).attr("x1",plot.left).attr("x2",plot.left+TL);
  ax.append("line").attr("y1",yy).attr("y2",yy).attr("x1",plot.right).attr("x2",plot.right-TL);
});

// tick labels
const tl=svg.append("g").attr("font-family",FONT).attr("font-size",23.5).attr("fill","#000");
xTicks.forEach(v=>tl.append("text").attr("x",x(v)).attr("y",902).attr("text-anchor","middle").text(v));
yTicks.forEach(v=>tl.append("text").attr("x",110).attr("y",y(v)).attr("dy","0.36em").attr("text-anchor","end").text(v));

// axis titles
svg.append("text").attr("x",(plot.left+plot.right)/2).attr("y",952).attr("text-anchor","middle")
  .attr("font-family",FONT).attr("font-size",24.5).text(xTitle);
svg.append("text").attr("transform","translate(36.5,453) rotate(-90)").attr("text-anchor","middle")
  .attr("font-family",FONT).attr("font-size",23.5).text(yTitle);

// annotation box and legend (white background, no border)
svg.append("rect").attr("x",72).attr("y",553).attr("width",323).attr("height",51).attr("fill","#fff");
svg.append("rect").attr("x",111).attr("y",619).attr("width",227).attr("height",58).attr("fill","#fff");
const nt=svg.append("g").attr("font-family",FONT).attr("font-size",24.5).attr("fill","#000");
noteLines.forEach((t,i)=>nt.append("text").attr("x",78).attr("y",580+i*28).text(t));
const legColors=["#ff0000","#000"];
legendLabels.forEach((t,i)=>{
  const ly=635+i*28;
  svg.append("line").attr("x1",113).attr("x2",158).attr("y1",ly).attr("y2",ly).attr("stroke",legColors[i]).attr("stroke-width",1.3);
  nt.append("text").attr("x",170).attr("y",ly+8).text(t);
});
</script></body></html>
